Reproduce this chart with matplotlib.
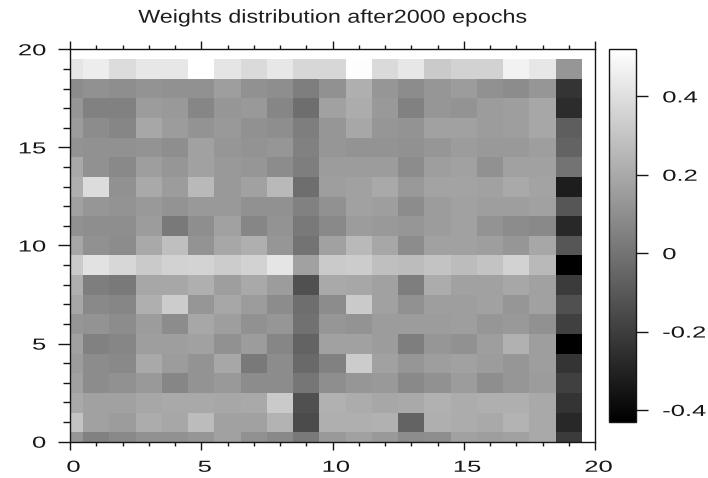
import numpy as np
import matplotlib
matplotlib.use("Agg")
import matplotlib.pyplot as plt
from matplotlib.patheffects import AbstractPathEffect
from matplotlib.transforms import Affine2D
from matplotlib.ticker import MultipleLocator

plt.rcParams['font.family'] = ['Liberation Sans', 'DejaVu Sans']
plt.rcParams['axes.unicode_minus'] = False

title_text = "Weights distribution after2000 epochs"
x_ticks = [0, 5, 10, 15, 20]
y_ticks = [0, 5, 10, 15, 20]
cbar_ticks = [-0.4, -0.2, 0.0, 0.2, 0.4]
cbar_ticklabels = ["-0.4", "-0.2", "0", "0.2", "0.4"]

# weights[row][col]; row 0 is drawn at the bottom
weights = [
    [0.13, 0.05, 0.08, 0.11, 0.11, 0.13, 0.17, 0.11, 0.08, 0.02, 0.14, 0.17, 0.14, 0.09, 0.10, 0.17, 0.16, 0.17, 0.20, -0.21],
    [0.30, 0.17, 0.15, 0.21, 0.19, 0.27, 0.17, 0.17, 0.24, -0.15, 0.22, 0.22, 0.23, -0.06, 0.22, 0.21, 0.20, 0.24, 0.20, -0.28],
    [0.20, 0.17, 0.17, 0.19, 0.20, 0.20, 0.19, 0.20, 0.32, -0.13, 0.23, 0.21, 0.19, 0.20, 0.23, 0.21, 0.22, 0.22, 0.20, -0.23],
    [0.17, 0.09, 0.11, 0.14, 0.07, 0.12, 0.14, 0.09, 0.09, 0.01, 0.10, 0.13, 0.14, 0.08, 0.11, 0.15, 0.10, 0.13, 0.15, -0.19],
    [0.15, 0.09, 0.08, 0.20, 0.15, 0.12, 0.19, 0.02, 0.09, -0.04, 0.05, 0.33, 0.17, 0.13, 0.16, 0.17, 0.15, 0.13, 0.16, -0.23],
    [0.17, 0.05, 0.07, 0.16, 0.16, 0.17, 0.11, 0.15, 0.07, -0.06, 0.17, 0.17, 0.15, 0.04, 0.13, 0.11, 0.16, 0.23, 0.16, -0.43],
    [0.13, 0.12, 0.09, 0.15, 0.09, 0.19, 0.16, 0.11, 0.13, -0.01, 0.13, 0.12, 0.15, 0.15, 0.15, 0.16, 0.13, 0.14, 0.11, -0.19],
    [0.19, 0.08, 0.07, 0.22, 0.33, 0.13, 0.19, 0.15, 0.09, -0.02, 0.09, 0.32, 0.17, 0.11, 0.16, 0.16, 0.17, 0.13, 0.17, -0.13],
    [0.22, 0.04, 0.02, 0.19, 0.19, 0.22, 0.16, 0.20, 0.15, -0.13, 0.20, 0.19, 0.17, 0.04, 0.21, 0.17, 0.17, 0.19, 0.17, -0.21],
    [0.32, 0.41, 0.37, 0.32, 0.35, 0.36, 0.33, 0.35, 0.42, 0.17, 0.32, 0.33, 0.28, 0.27, 0.30, 0.27, 0.30, 0.35, 0.26, -0.43],
    [0.19, 0.11, 0.09, 0.20, 0.28, 0.12, 0.19, 0.22, 0.13, 0.00, 0.17, 0.26, 0.19, 0.09, 0.17, 0.17, 0.16, 0.13, 0.19, -0.11],
    [0.11, 0.10, 0.10, 0.15, 0.02, 0.10, 0.17, 0.07, 0.12, 0.02, 0.08, 0.15, 0.14, 0.13, 0.15, 0.17, 0.12, 0.09, 0.08, -0.28],
    [0.17, 0.13, 0.12, 0.14, 0.12, 0.14, 0.14, 0.11, 0.11, 0.05, 0.11, 0.17, 0.16, 0.09, 0.15, 0.17, 0.16, 0.16, 0.17, -0.11],
    [0.22, 0.39, 0.11, 0.20, 0.15, 0.26, 0.14, 0.17, 0.26, -0.02, 0.16, 0.17, 0.20, 0.14, 0.18, 0.18, 0.17, 0.20, 0.18, -0.32],
    [0.20, 0.11, 0.08, 0.16, 0.13, 0.17, 0.14, 0.13, 0.09, 0.04, 0.15, 0.15, 0.15, 0.09, 0.16, 0.17, 0.11, 0.17, 0.17, 0.00],
    [0.12, 0.11, 0.11, 0.12, 0.10, 0.17, 0.13, 0.12, 0.13, 0.05, 0.13, 0.12, 0.12, 0.11, 0.13, 0.15, 0.14, 0.14, 0.16, -0.06],
    [0.15, 0.09, 0.07, 0.19, 0.15, 0.12, 0.14, 0.11, 0.10, 0.04, 0.13, 0.19, 0.13, 0.12, 0.17, 0.17, 0.15, 0.16, 0.19, -0.08],
    [0.13, 0.05, 0.05, 0.15, 0.14, 0.07, 0.13, 0.14, 0.07, -0.02, 0.17, 0.21, 0.14, 0.05, 0.13, 0.12, 0.15, 0.16, 0.19, -0.26],
    [0.09, 0.11, 0.10, 0.12, 0.11, 0.11, 0.16, 0.11, 0.10, 0.04, 0.11, 0.22, 0.13, 0.09, 0.13, 0.15, 0.11, 0.09, 0.13, -0.23],
    [0.42, 0.45, 0.39, 0.43, 0.43, 0.52, 0.42, 0.38, 0.43, 0.37, 0.37, 0.51, 0.38, 0.43, 0.32, 0.35, 0.35, 0.47, 0.43, 0.13],
]


class Widen(AbstractPathEffect):
    """Draw glyphs stretched horizontally about an anchor point of the string."""

    def __init__(self, sx, anchor=0.5, dx=0.0):
        super().__init__()
        self.sx, self.anchor, self.dx = sx, anchor, dx

    def draw_path(self, renderer, gc, tpath, affine, rgbFace=None):
        ext = tpath.get_extents()
        x0 = ext.x0 + self.anchor * ext.width
        pre = Affine2D().translate(-x0, 0).scale(self.sx, 1).translate(x0, 0)
        post = Affine2D().translate(self.dx, 0)
        renderer.draw_path(gc, tpath, pre + affine + post, rgbFace)


W, H = 708, 478
fig = plt.figure(figsize=(W / 100, H / 100), dpi=100)
ax = fig.add_axes([70 / W, 36.3 / H, 525 / W, 392.4 / H])
cax = fig.add_axes([609.3 / W, 56.3 / H, 26.4 / W, 372.4 / H])

data = np.array(weights)
n_rows, n_cols = data.shape
im = ax.imshow(data, cmap='gray', origin='lower', interpolation='nearest',
               vmin=data.min(), vmax=data.max(), aspect='auto',
               extent=(-0.5, n_cols - 0.5, -0.5, n_rows - 0.5))
ax.set_xlim(0, 20)
ax.set_ylim(0, 20)

ink = '#161616'
ax.set_xticks(x_ticks)
ax.set_yticks(y_ticks)
ax.xaxis.set_minor_locator(MultipleLocator(1))
ax.yaxis.set_minor_locator(MultipleLocator(1))
ax.tick_params(axis='x', which='both', direction='out', top=True, bottom=True,
               width=1.0, color=ink, labelsize=11.5, labelcolor=ink, pad=7.5)
ax.tick_params(axis='x', which='major', length=5.5)
ax.tick_params(axis='x', which='minor', length=2.9)
ax.tick_params(axis='y', which='both', direction='out', left=True, right=False,
               width=1.0, color=ink, labelsize=11.5, labelcolor=ink, pad=9)
ax.tick_params(axis='y', which='major', length=8.4)
ax.tick_params(axis='y', which='minor', length=4.8)
for sp in ax.spines.values():
    sp.set_linewidth(1.0)
    sp.set_color(ink)

cbar = fig.colorbar(im, cax=cax, ticks=cbar_ticks)
cbar.ax.set_yticklabels(cbar_ticklabels)
cbar.outline.set_linewidth(1.0)
cbar.outline.set_edgecolor(ink)
cax.tick_params(length=8.4, width=1.0, color=ink, labelsize=11.5,
                labelcolor=ink, pad=11)

title = fig.text(332.5 / W, 1 - 22.7 / H, title_text, ha='center',
                 va='baseline', fontsize=13.4, color='#1e1e1e')

fig.canvas.draw()
title.set_path_effects([Widen(1.25, 0.5)])
for lab in ax.get_xticklabels():
    lab.set_path_effects([Widen(1.6, 0.5, 3.5)])
for lab in ax.get_yticklabels():
    lab.set_path_effects([Widen(1.6, 1.0)])
for lab in cax.get_yticklabels():
    lab.set_path_effects([Widen(1.6, 0.0)])

fig.savefig('out.png', dpi=100)
